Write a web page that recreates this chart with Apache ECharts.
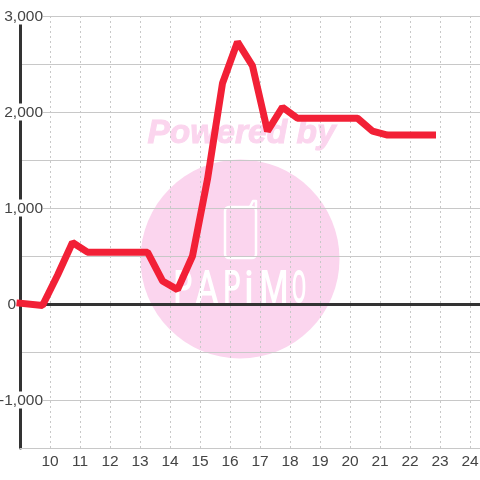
<!DOCTYPE html>
<html><head><meta charset="utf-8">
<style>html,body{margin:0;padding:0;background:#fff}#c{width:480px;height:480px}</style>
<script src="https://cdn.jsdelivr.net/npm/echarts@6/dist/echarts.min.js"></script>
</head><body><div id="c"></div>
<script>
const hours = [9,9.75,10.25,10.75,11.25,11.75,12.25,12.75,13.25,13.75,14.25,14.75,15.25,15.75,16.25,16.75,17.25,17.75,18.25,18.75,19.25,19.75,20.25,20.75,21.25,21.75,22.25,22.75];
const values = [8,-15,300,640,540,540,540,540,540,240,150,500,1300,2300,2730,2480,1800,2050,1935,1935,1935,1935,1935,1800,1760,1760,1760,1760];
const logoLetters = ['P','A','P','i','M','O'];
const logoX = [183,207,232,249,274,299];
const logoScale = [0.65,0.75,0.6,0.8,0.72,0.46];
const fontFam = '"Liberation Sans", Arial, sans-serif';
const pink = '#fbd5ee';
const chart = echarts.init(document.getElementById('c'), null, {renderer:'canvas'});
const letters = logoLetters.map((t,i)=>({type:'text',z:-9,x:logoX[i],y:268,scaleX:logoScale[i],silent:true,
  style:{text:t,fill:'#fff',font:'500 46px Roboto',textAlign:'center',textVerticalAlign:'top'}}));
chart.setOption({
  animation:false,
  backgroundColor:'#fff',
  grid:{left:20,right:0,top:16,bottom:32,containLabel:false,outerBoundsMode:'none'},
  graphic:{elements:[
    {type:'circle',z:-10,silent:true,shape:{cx:240,cy:259,r:99.5},style:{fill:pink}},
    {type:'text',z:-9,silent:true,x:241.5,y:134,style:{text:'Powered by',fill:pink,stroke:pink,lineWidth:1,font:'italic bold 33.5px '+fontFam,textAlign:'center',textVerticalAlign:'middle'}},
    {type:'rect',z:-9,silent:true,shape:{x:225,y:207,width:31,height:51,r:4},style:{fill:'none',stroke:'#fff',lineWidth:2.5}},
    {type:'polyline',z:-9,silent:true,shape:{points:[[250,207],[253,201],[256,201],[256,207]]},style:{fill:'none',stroke:'#fff',lineWidth:2.5,lineCap:'round',lineJoin:'round'}},
    ...letters
  ]},
  xAxis:[{
    type:'value',min:9,max:9+460/30,interval:1,position:'bottom',
    axisLine:{show:true,onZero:false,lineStyle:{color:'#c8c8c8',width:1}},
    axisTick:{show:false},
    axisLabel:{color:'#444',fontSize:15.5,fontFamily:fontFam,margin:6,showMinLabel:false,showMaxLabel:false,
      formatter:v=>String(v),hideOverlap:false},
    splitLine:{show:true,lineStyle:{color:'#c8c8c8',width:1,type:[2,3]}}
  },{
    type:'value',min:9,max:9+460/30,position:'top',
    axisLine:{show:true,onZero:true,lineStyle:{color:'#333',width:3}},
    axisTick:{show:false},axisLabel:{show:false},splitLine:{show:false}
  }],
  yAxis:{
    type:'value',min:-1500,max:3000,interval:500,
    axisLine:{show:true,onZero:false,lineStyle:{color:'#333',width:3}},
    axisTick:{show:false},
    axisLabel:{color:'#444',fontSize:15.5,fontFamily:fontFam,margin:-23,
      formatter:v=>v===0?'{z|0}':(v%1000===0?'{w|'+echarts.format.addCommas(v)+'}':''),
      rich:{
        w:{backgroundColor:'#fff',height:16,color:'#444',fontSize:15.5,fontFamily:fontFam,padding:[1,0,0,0]},
        z:{padding:[1,27,0,0],color:'#444',fontSize:15.5,fontFamily:fontFam}
      },
      showMinLabel:true},
    splitLine:{show:true,lineStyle:{color:'#c8c8c8',width:1}}
  },
  series:[{
    type:'line',xAxisIndex:0,data:hours.map((h,i)=>[h,values[i]]),symbol:'none',clip:false,smooth:false,
    lineStyle:{color:'#f22036',width:7,cap:'square',join:'bevel'},z:5
  }]
});
</script></body></html>
